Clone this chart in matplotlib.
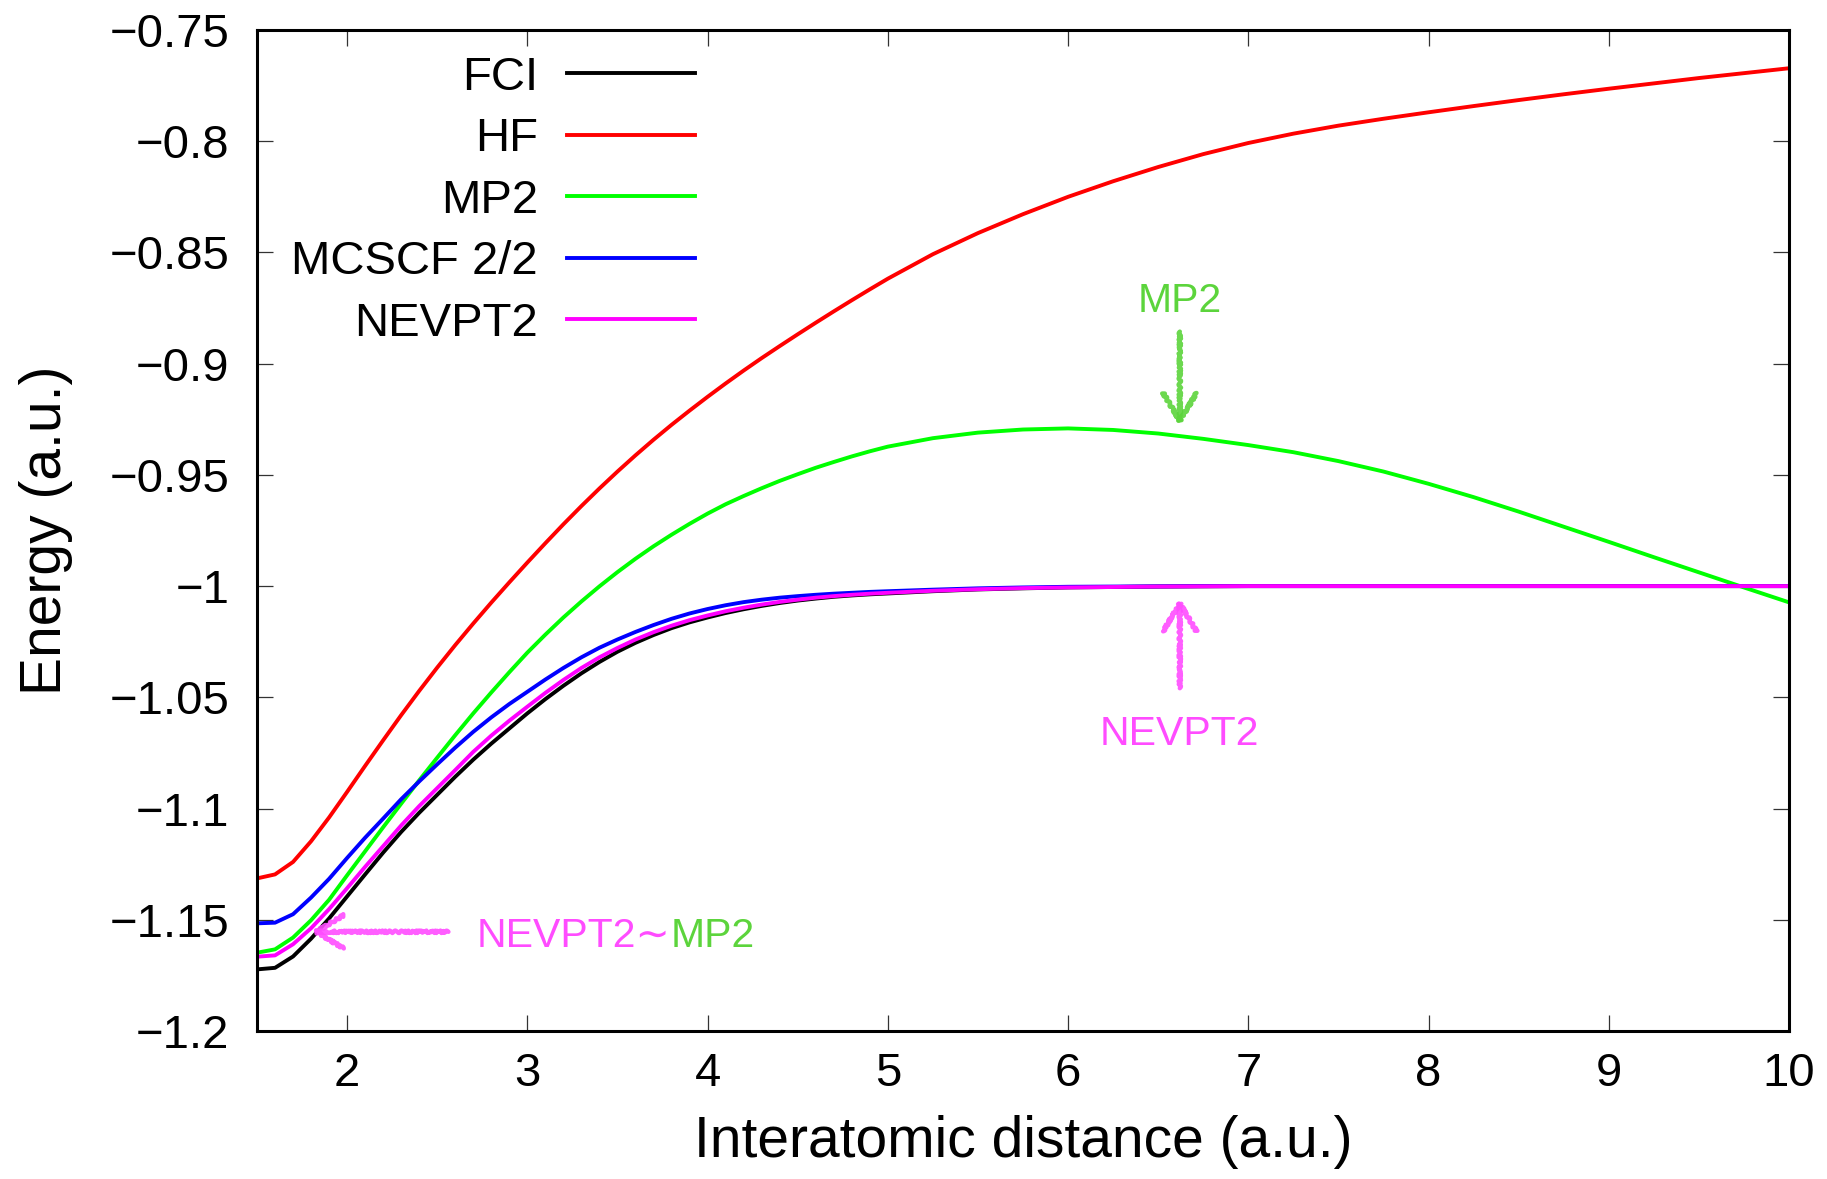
import matplotlib
matplotlib.use("Agg")
import matplotlib.pyplot as plt
from matplotlib.ticker import FuncFormatter

plt.rcParams['font.family'] = ['Liberation Sans', 'DejaVu Sans']
plt.rcParams['axes.unicode_minus'] = True

# Interatomic distance grid (bohr)
distance = [1.5, 1.6, 1.7, 1.8, 1.9, 2.0, 2.1, 2.2, 2.3, 2.4, 2.5, 2.6, 2.7, 2.8, 2.9, 3.0,
            3.1, 3.2, 3.3, 3.4, 3.5, 3.6, 3.7, 3.8, 3.9, 4.0, 4.1, 4.2, 4.3, 4.4, 4.5, 4.6,
            4.7, 4.8, 4.9, 5.0,
            5.25, 5.5, 5.75, 6.0, 6.25, 6.5, 6.75, 7.0, 7.25, 7.5, 7.75, 8.0, 8.25, 8.5,
            8.75, 9.0, 9.25, 9.5, 9.75, 10.0]

# Total energies (hartree)
fci = [-1.1723, -1.1716, -1.1665, -1.1585, -1.1494, -1.1395, -1.1296, -1.1198, -1.1105, -1.1019,
       -1.0938, -1.0857, -1.0780, -1.0708, -1.0640, -1.0572, -1.0508, -1.0448, -1.0392, -1.0341,
       -1.0295, -1.0255, -1.0220, -1.0189, -1.0163, -1.0141, -1.0121, -1.0104, -1.0089, -1.0076,
       -1.0065, -1.0056, -1.0048, -1.0042, -1.0037, -1.0033,
       -1.0023, -1.0015, -1.0010, -1.0006, -1.0004, -1.0002, -1.0001, -1.0000, -1.0000, -1.0000,
       -1.0000, -1.0000, -1.0000, -1.0000, -1.0000, -1.0000, -1.0000, -1.0000, -1.0000, -1.0000]
hf = [-1.1314, -1.1296, -1.1240, -1.1147, -1.1040, -1.0925, -1.0808, -1.0693, -1.0580, -1.0471,
      -1.0366, -1.0265, -1.0168, -1.0074, -0.9983, -0.9894, -0.9807, -0.9722, -0.9640, -0.9561,
      -0.9485, -0.9412, -0.9342, -0.9275, -0.9211, -0.9149, -0.9089, -0.9031, -0.8975, -0.8921,
      -0.8868, -0.8816, -0.8765, -0.8715, -0.8666, -0.8618,
      -0.8508, -0.8413, -0.8328, -0.8250, -0.8180, -0.8116, -0.8058, -0.8008, -0.7966, -0.7930,
      -0.7899, -0.7870, -0.7842, -0.7815, -0.7789, -0.7764, -0.7740, -0.7716, -0.7694, -0.7672]
mp2 = [-1.1648, -1.1633, -1.1580, -1.1502, -1.1410, -1.1300, -1.1192, -1.1084, -1.0978, -1.0873,
       -1.0771, -1.0670, -1.0572, -1.0478, -1.0387, -1.0299, -1.0218, -1.0141, -1.0069, -1.0001,
       -0.9937, -0.9877, -0.9821, -0.9769, -0.9720, -0.9674, -0.9632, -0.9595, -0.9560, -0.9527,
       -0.9497, -0.9468, -0.9442, -0.9417, -0.9394, -0.9373,
       -0.9335, -0.9310, -0.9296, -0.9291, -0.9298, -0.9314, -0.9338, -0.9366, -0.9398, -0.9438,
       -0.9485, -0.9540, -0.9600, -0.9665, -0.9733, -0.9801, -0.9870, -0.9938, -1.0006, -1.0073]
mcscf = [-1.1516, -1.1513, -1.1475, -1.1400, -1.1316, -1.1222, -1.1131, -1.1045, -1.0958, -1.0878,
         -1.0801, -1.0726, -1.0655, -1.0590, -1.0530, -1.0475, -1.0420, -1.0368, -1.0320, -1.0277,
         -1.0240, -1.0206, -1.0175, -1.0147, -1.0123, -1.0103, -1.0086, -1.0072, -1.0061, -1.0052,
         -1.0045, -1.0039, -1.0034, -1.0030, -1.0026, -1.0023,
         -1.0016, -1.0010, -1.0006, -1.0003, -1.0002, -1.0001, -1.0000, -1.0000, -1.0000, -1.0000,
         -1.0000, -1.0000, -1.0000, -1.0000, -1.0000, -1.0000, -1.0000, -1.0000, -1.0000, -1.0000]
nevpt2 = [-1.1666, -1.1660, -1.1610, -1.1538, -1.1452, -1.1358, -1.1262, -1.1169, -1.1076, -1.0989,
          -1.0908, -1.0827, -1.0745, -1.0672, -1.0605, -1.0542, -1.0480, -1.0422, -1.0368, -1.0320,
          -1.0278, -1.0240, -1.0207, -1.0178, -1.0153, -1.0132, -1.0113, -1.0097, -1.0083, -1.0071,
          -1.0061, -1.0052, -1.0045, -1.0039, -1.0034, -1.0030,
          -1.0021, -1.0014, -1.0009, -1.0006, -1.0004, -1.0002, -1.0001, -1.0000, -1.0000, -1.0000,
          -1.0000, -1.0000, -1.0000, -1.0000, -1.0000, -1.0000, -1.0000, -1.0000, -1.0000, -1.0000]

series_labels = ['FCI', 'HF', 'MP2', 'MCSCF 2/2', 'NEVPT2']
series_colors = ['#000000', '#ff0000', '#00ff00', '#0000ff', '#ff00ff']

xticks = [2, 3, 4, 5, 6, 7, 8, 9, 10]
yticks = [-1.2, -1.15, -1.1, -1.05, -1.0, -0.95, -0.9, -0.85, -0.8, -0.75]

ann_magenta = '#ff4cff'
ann_green = '#5cd43c'

fig = plt.figure(figsize=(18.27, 11.79), dpi=100)
ax = fig.add_axes([257 / 1827, 1 - 1031 / 1179, 1532 / 1827, 1001 / 1179])

for ys, lab, col in zip([fci, hf, mp2, mcscf, nevpt2], series_labels, series_colors):
    ax.plot(distance, ys, color=col, lw=2.8, label=lab)

ax.set_xlim(1.5, 10)
ax.set_ylim(-1.2, -0.75)
ax.set_xticks(xticks)
ax.set_yticks(yticks)
ax.yaxis.set_major_formatter(FuncFormatter(lambda v, p: '{:g}'.format(round(v, 4)).replace('-', '\u2212')))
ax.xaxis.set_major_formatter(FuncFormatter(lambda v, p: '{:g}'.format(v)))
ax.tick_params(axis='both', which='major', direction='in', length=11.5, width=0.9,
               color='#333333', top=True, right=True, labelsize=34)
ax.tick_params(axis='y', pad=20)
ax.tick_params(axis='x', pad=15)
for sp in ax.spines.values():
    sp.set_linewidth(2.2)

ax.set_xlabel('Interatomic distance (a.u.)', fontsize=41, labelpad=14)
ax.set_ylabel('Energy (a.u.)', fontsize=41, labelpad=26)

leg = ax.legend(loc='upper right', bbox_to_anchor=(0.2856, 0.974), frameon=False,
                markerfirst=False, handlelength=2.7, handletextpad=0.62,
                labelspacing=0.37, borderpad=0, borderaxespad=0, fontsize=34)
for column in leg._legend_handle_box.get_children():
    column.align = 'right'

# Hand-drawn style pointers
def sketch_arrow(x0, y0, x1, y1, color):
    a = ax.annotate('', xy=(x1, y1), xytext=(x0, y0),
                    arrowprops=dict(arrowstyle='->,head_length=1.0,head_width=0.6',
                                    color=color, lw=3.2, mutation_scale=20,
                                    shrinkA=0, shrinkB=0, alpha=0.9))
    a.arrow_patch.set_sketch_params(scale=1.2, length=2.0, randomness=4)
    return a

sketch_arrow(6.62, -0.8856, 6.62, -0.9276, ann_green)
ax.text(6.62, -0.8717, 'MP2', color=ann_green, fontsize=29.5, ha='center', va='center')

sketch_arrow(6.62, -1.0459, 6.62, -1.0059, ann_magenta)
ax.text(6.62, -1.0665, 'NEVPT2', color=ann_magenta, fontsize=29.5, ha='center', va='center')

sketch_arrow(2.562, -1.1554, 1.8035, -1.1554, ann_magenta)
t1 = ax.text(2.72, -1.1572, 'NEVPT2\u223c', color=ann_magenta, fontsize=29.5,
             ha='left', va='center')
ax.annotate('MP2', xy=(1, 0.5), xycoords=t1, color=ann_green, fontsize=29.5,
            ha='left', va='center')

fig.savefig('out.png', dpi=100)
